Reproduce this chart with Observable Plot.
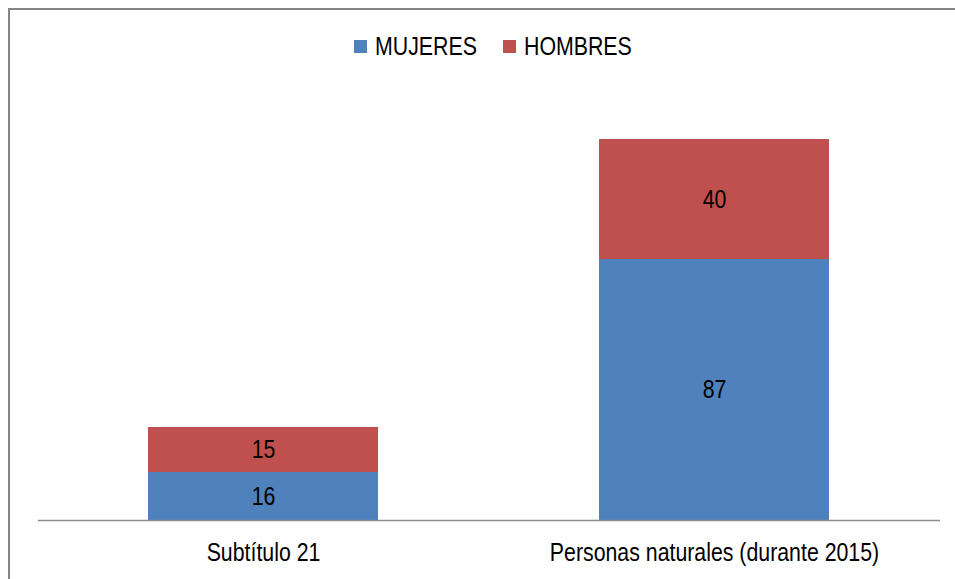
<!DOCTYPE html>
<html>
<head>
<meta charset="utf-8">
<script src="https://cdn.jsdelivr.net/npm/d3@7"></script>
<script src="https://cdn.jsdelivr.net/npm/@observablehq/plot@0.6"></script>
<style>
  html, body { margin: 0; padding: 0; background: #fff; }
  #wrap { position: relative; width: 955px; height: 579px; overflow: hidden; font-family: "Liberation Sans", Arial, sans-serif; }
  #frame { position: absolute; left: 8px; top: 8px; width: 2000px; height: 2000px; border-top: 2px solid #858585; border-left: 2px solid #858585; box-sizing: border-box; }
  #chart { position: absolute; left: 0; top: 0; }
  #legend { position: absolute; top: 31px; left: 0; width: 955px; height: 30px; }
  .item { position: absolute; top: 0; height: 30px; display: flex; align-items: center; font-size: 26px; color: #000; white-space: nowrap; }
  .sw { width: 13px; height: 13px; margin-right: 8px; margin-top: 1px; flex: none; }
  .lbl { display: inline-block; transform: scaleX(0.82); transform-origin: left center; line-height: 30px; }
</style>
</head>
<body>
<div id="wrap">
  <div id="frame"></div>
  <div id="chart"></div>
  <div id="legend"></div>
</div>
<script>
const categories = ["Subtítulo 21", "Personas naturales (durante 2015)"];
const series = ["MUJERES", "HOMBRES"];
const mujeres = [16, 87];
const hombres = [15, 40];
const colors = ["#4F81BD", "#C0504D"];

const data = [];
categories.forEach((c, i) => {
  data.push({category: c, series: series[0], value: mujeres[i]});
  data.push({category: c, series: series[1], value: hombres[i]});
});

const font = '"Liberation Sans", Arial, sans-serif';
const narrow = 0.82;

const plot = Plot.plot({
  width: 955,
  height: 579,
  marginLeft: 38,
  marginRight: 15,
  marginTop: 100,
  marginBottom: 59,
  style: {fontFamily: font, fontSize: "26px", background: "transparent", color: "#000"},
  x: {domain: categories, paddingInner: 0.49, paddingOuter: 0.245, label: null},
  y: {domain: [0, 140], axis: null},
  color: {domain: series, range: colors},
  marks: [
    Plot.barY(data, Plot.stackY({x: "category", y: "value", fill: "series", order: series})),
    Plot.ruleY([0], {stroke: "#8c8c8c", strokeWidth: 1.5}),
    Plot.text(data, Plot.stackY({x: "category", y: "value", z: "series", order: series, text: d => String(d.value), fill: "#000", fontSize: 26})),
    Plot.axisX({tickSize: 0, tickPadding: 22, fontSize: 26, label: null, fill: "#000"})
  ]
});
// emulate a narrow (condensed) face by scaling text horizontally about its anchor
plot.querySelectorAll("text").forEach(t => {
  const xa = t.getAttribute("x");
  const x = xa != null && isFinite(+xa) ? +xa : 0;
  if (xa != null && isFinite(+xa)) t.removeAttribute("x");
  const tr = t.getAttribute("transform") || "";
  t.setAttribute("transform", `${tr} translate(${x},0) scale(${narrow},1)`);
});
document.getElementById("chart").appendChild(plot);

const legend = document.getElementById("legend");
const lefts = [354, 503];
series.forEach((s, i) => {
  const it = document.createElement("div");
  it.className = "item";
  it.style.left = lefts[i] + "px";
  const sw = document.createElement("div");
  sw.className = "sw";
  sw.style.background = colors[i];
  const t = document.createElement("span");
  t.className = "lbl";
  t.textContent = s;
  it.appendChild(sw);
  it.appendChild(t);
  legend.appendChild(it);
});
</script>
</body>
</html>
